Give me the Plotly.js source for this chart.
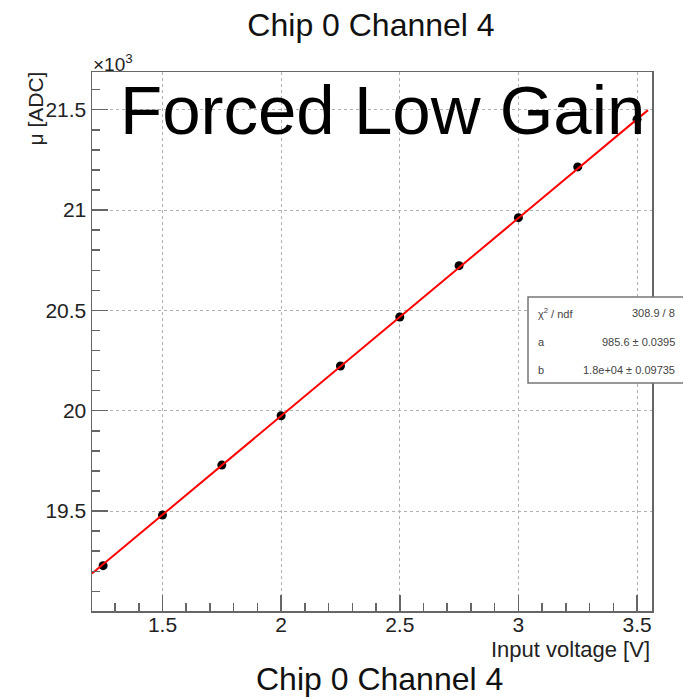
<!DOCTYPE html>
<html>
<head>
<meta charset="utf-8">
<script src="https://cdn.plot.ly/plotly-3.0.1.min.js"></script>
<style>html,body{margin:0;padding:0;background:#fff;}#chart{width:683px;height:698px;}</style>
</head>
<body>
<div id="chart"></div>
<script>
// ---- data ----
const inputVoltage = [1.25, 1.5, 1.75, 2.0, 2.25, 2.5, 2.75, 3.0, 3.25, 3.5];
const muADC = [19228, 19480, 19729, 19975, 20223, 20467, 20723, 20962, 21215, 21452];
// fit parameters (pol1: mu = a*V + b) and the range the fit line is drawn over
const fitA = 985.6;
const fitB = 18003;
const fitRange = [1.203, 3.546];
const statsLabels = ["χ<sup>2</sup> / ndf", "a", "b"];
const statsValues = ["308.9 / 8", "985.6 ± 0.0395", "1.8e+04 ± 0.09735"];
const titleText = "Chip 0 Channel 4";
const overlayText = "Forced Low Gain";

// ---- geometry helpers (pixel -> paper) ----
const W = 683, H = 698;
const L = 92, R = 652, T = 72, B = 611;
const px = x => (x - L) / (R - L);
const py = y => (B - y) / (B - T);
const FONT = '"Liberation Sans", Arial, Helvetica, sans-serif';

const yK = muADC.map(v => v / 1000);
const fitX = fitRange;
const fitY = fitRange.map(x => (fitA * x + fitB) / 1000);

const traces = [
  {
    x: inputVoltage, y: yK, type: 'scatter', mode: 'markers',
    marker: {color: '#000', size: 9}, showlegend: false, hoverinfo: 'skip'
  },
  {
    x: fitX, y: fitY, type: 'scatter', mode: 'lines',
    line: {color: '#ff0000', width: 2}, showlegend: false, hoverinfo: 'skip'
  }
];

const axisCommon = {
  showline: true, linecolor: '#666', linewidth: 1.5, mirror: true,
  ticks: 'inside', ticklen: 16, tickcolor: '#666', tickwidth: 1.5,
  showgrid: true, gridcolor: '#b0b0b0', griddash: 'dot', gridwidth: 1,
  zeroline: false,
  tickfont: {family: FONT, size: 21, color: '#222'},
};

const annotations = [
  {text: '×10<sup>3</sup>', xref: 'paper', yref: 'paper', x: px(91), y: py(63),
   xanchor: 'left', yanchor: 'middle', showarrow: false,
   font: {family: FONT, size: 19, color: '#222'}},
  {text: 'μ [ADC]', xref: 'paper', yref: 'paper', x: px(35), y: py(108.5),
   xanchor: 'center', yanchor: 'middle', textangle: -90, showarrow: false,
   font: {family: FONT, size: 21, color: '#222'}},
  {text: 'Input voltage [V]', xref: 'paper', yref: 'paper', x: px(652), y: py(649),
   xanchor: 'right', yanchor: 'middle', showarrow: false,
   font: {family: FONT, size: 22, color: '#222'}},
  {text: titleText, xref: 'paper', yref: 'paper', x: px(379), y: py(679),
   xanchor: 'center', yanchor: 'middle', showarrow: false,
   font: {family: FONT, size: 32, color: '#111'}},
  {text: overlayText, xref: 'paper', yref: 'paper', x: px(382.5), y: py(110),
   xanchor: 'center', yanchor: 'middle', showarrow: false,
   font: {family: FONT, size: 69, color: '#000'}},
];
const rowY = [313, 342, 370];
statsLabels.forEach((t, i) => {
  annotations.push({text: t, xref: 'paper', yref: 'paper', x: px(536), y: py(rowY[i]),
    xanchor: 'left', yanchor: 'middle', showarrow: false,
    font: {family: FONT, size: 11, color: '#444'}});
  annotations.push({text: statsValues[i], xref: 'paper', yref: 'paper', x: px(677), y: py(rowY[i]),
    xanchor: 'right', yanchor: 'middle', showarrow: false,
    font: {family: FONT, size: 11, color: '#444'}});
});

const layout = {
  width: W, height: H,
  margin: {l: L, r: W - R, t: T, b: H - B, pad: 0},
  paper_bgcolor: '#fff', plot_bgcolor: '#fff',
  title: {text: titleText, x: 371 / W, xanchor: 'center', xref: 'container',
          y: 1 - 25 / H, yanchor: 'middle', yref: 'container',
          font: {family: FONT, size: 32, color: '#111'}},
  xaxis: Object.assign({}, axisCommon, {
    range: [1.203, 3.563], dtick: 0.5, tick0: 0, ticklabelstandoff: -6,
    minor: {ticks: 'inside', ticklen: 8, tickcolor: '#666', tickwidth: 1.5, dtick: 0.1, tick0: 0, showgrid: false}
  }),
  yaxis: Object.assign({}, axisCommon, {
    range: [19.002, 21.688], dtick: 0.5, tick0: 0,
    minor: {ticks: 'inside', ticklen: 8, tickcolor: '#666', tickwidth: 1.5, dtick: 0.1, tick0: 0, showgrid: false}
  }),
  shapes: [
    {type: 'rect', xref: 'paper', yref: 'paper', x0: px(528), x1: px(700), y0: py(383), y1: py(297),
     line: {color: '#777', width: 1.5}, fillcolor: '#fff', layer: 'above'}
  ],
  annotations: annotations,
  showlegend: false
};

Plotly.newPlot('chart', traces, layout, {staticPlot: true, displayModeBar: false});
</script>
</body>
</html>
